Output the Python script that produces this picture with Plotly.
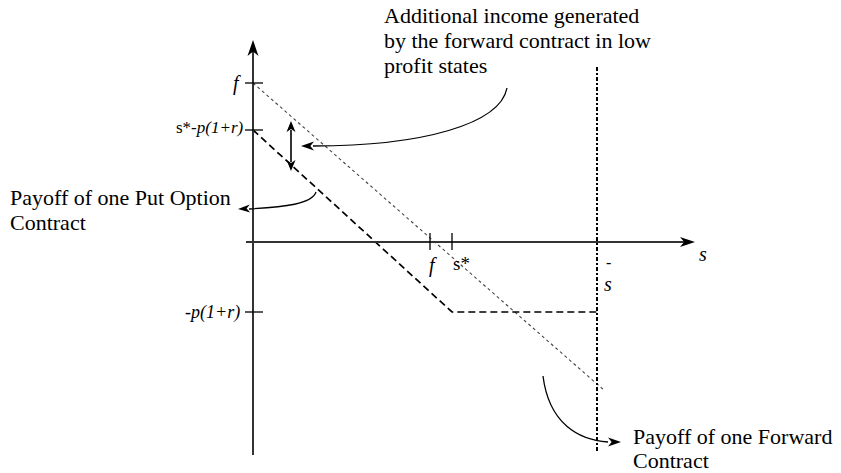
import plotly.graph_objects as go

# ---- schematic values (abstract units, origin = intersection of the axes) ----
f_val = 177            # forward price f on the s-axis
s_star = 199           # s*
s_bar = 344            # upper bound  s-bar
fwd_at_zero = 159      # forward payoff at s = 0  (= f)
put_at_zero = 112      # put payoff at s = 0      (= s* - p(1+r))
put_floor = -70        # -p(1+r)

s_forward = [0, 352]
payoff_forward = [fwd_at_zero, -149]
s_put = [0, s_star, s_bar]
payoff_put = [put_at_zero, put_floor, put_floor]
s_bound = [s_bar, s_bar]
payoff_bound = [175, -211]

y_tick_vals = [fwd_at_zero, put_at_zero, put_floor]
y_tick_text = ["<i>f</i>", "s*-<i>p(1+r)</i>", "-<i>p(1+r)</i>"]
x_tick_vals = [f_val, s_star]
x_tick_text = ["<i>f</i>", "s*"]

note_income = ["Additional income generated", "by the forward contract in low", "profit states"]
note_put = ["Payoff of one Put Option", "Contract"]
note_forward = ["Payoff of one Forward", "Contract"]

FONT = "Liberation Serif, Times New Roman, serif"

fig = go.Figure()

fig.add_trace(go.Scatter(x=s_forward, y=payoff_forward, mode="lines",
                         line=dict(color="#444", width=1.1, dash="dot"),
                         hoverinfo="skip"))
fig.add_trace(go.Scatter(x=s_put, y=payoff_put, mode="lines",
                         line=dict(color="black", width=1.7, dash="7px,4px"),
                         hoverinfo="skip"))
fig.add_trace(go.Scatter(x=s_bound, y=payoff_bound, mode="lines",
                         line=dict(color="black", width=2, dash="4px,2px,2px,2px"),
                         hoverinfo="skip"))


def head(tip, d, length, width):
    tx, ty = tip
    dx, dy = d
    n = (dx * dx + dy * dy) ** 0.5
    dx, dy = dx / n, dy / n
    px, py = -dy, dx
    bx, by = tx - dx * length, ty - dy * length
    nx, ny = tx - dx * length * 0.72, ty - dy * length * 0.72
    p1 = (bx + px * width / 2, by + py * width / 2)
    p2 = (bx - px * width / 2, by - py * width / 2)
    return (f"M{tx},{ty} L{p1[0]},{p1[1]} L{nx},{ny} "
            f"L{p2[0]},{p2[1]} Z")


shapes = []


def add_head(tip, d, length, width):
    shapes.append(dict(type="path", xref="x", yref="y",
                       path=head(tip, d, length, width),
                       fillcolor="black", line=dict(width=0)))


def add_line(x0, y0, x1, y1, color="black", width=1.5):
    shapes.append(dict(type="line", xref="x", yref="y", x0=x0, y0=y0,
                       x1=x1, y1=y1, line=dict(color=color, width=width)))


def add_curve(path, width=1.3):
    shapes.append(dict(type="path", xref="x", yref="y", path=path,
                       fillcolor="rgba(0,0,0,0)",
                       line=dict(color="black", width=width)))


# axes
add_line(-7, 0, 436, 0, color="#333", width=2)
add_head((442, 0), (1, 0), 15, 10)
add_line(0, -213, 0, 195, color="#333", width=2)
add_head((0, 202), (0, 1), 16, 11)

# ticks
for v in y_tick_vals:
    add_line(-8, v, 10, v, width=1.3)
for v in x_tick_vals:
    add_line(v, -8, v, 9, width=1.3)

# double arrow
add_line(38, 112, 38, 80, width=1.6)
add_head((38, 121), (0, 1), 11, 9)
add_head((38, 71), (0, -1), 11, 9)

# curved arrows
add_curve("M254,154 C247,118 170,96 60,96")
add_head((48, 96), (-1, 0), 13, 9)

add_curve("M63,50 C59,38 32,35 -4,33")
add_head((-15, 33), (-1, -0.05), 12, 8)

add_curve("M290,-134 C296,-182 326,-198 355,-200")
add_head((368, -200), (1, 0), 13, 9)

annotations = []


def text(x, y, t, size=19, xanchor="center", yanchor="middle", align="center"):
    annotations.append(dict(x=x, y=y, xref="x", yref="y", text=t,
                            showarrow=False, xanchor=xanchor, yanchor=yanchor,
                            align=align,
                            font=dict(family=FONT, size=size, color="black")))


# y tick labels
text(-10, y_tick_vals[0], y_tick_text[0], size=20, xanchor="right")
text(-7, y_tick_vals[1] + 3, y_tick_text[1], size=17, xanchor="right")
text(-11, y_tick_vals[2], y_tick_text[2], size=18, xanchor="right")
# x tick labels
text(x_tick_vals[0] + 3, -23, x_tick_text[0], size=20)
text(x_tick_vals[1] + 9, -21, x_tick_text[1], size=19)
text(355, -20, "-", size=16)
text(355, -42, "<i>s</i>", size=20)
text(450, -12, "<i>s</i>", size=20)

# descriptive text, one annotation per line (tight line spacing)
for i, line in enumerate(note_income):
    text(129, 227 - 25 * i, line, size=22, xanchor="left")
for i, line in enumerate(note_put):
    text(-245, 45 - 25 * i, line, size=22, xanchor="left")
for i, line in enumerate(note_forward):
    text(378, -194 - 24 * i, line, size=22, xanchor="left")

fig.update_layout(
    width=841, height=473,
    margin=dict(l=0, r=0, t=0, b=0),
    paper_bgcolor="white", plot_bgcolor="white",
    showlegend=False, hovermode=False,
    xaxis=dict(range=[-253, 588], visible=False, fixedrange=True),
    yaxis=dict(range=[-231, 242], visible=False, fixedrange=True),
    shapes=shapes, annotations=annotations,
)

fig.write_html("out.html", config={"displayModeBar": False},
               post_script="document.body.style.margin='0';")
